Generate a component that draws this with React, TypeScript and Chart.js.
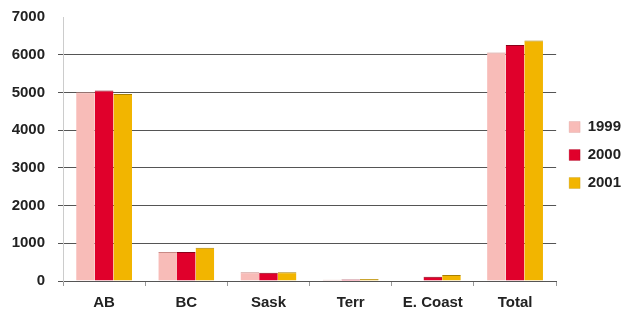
import React, { useEffect, useRef } from "react";
import { Chart, registerables } from "chart.js";

Chart.register(...registerables);

const categories = ["AB", "BC", "Sask", "Terr", "E. Coast", "Total"];
const series1999 = [5005, 770, 230, 30, 0, 6060];
const series2000 = [5050, 770, 220, 40, 110, 6255];
const series2001 = [4960, 880, 230, 50, 160, 6380];
const seriesLabels = ["1999", "2000", "2001"];
const yTicks = [0, 1000, 2000, 3000, 4000, 5000, 6000, 7000];

const fillColors = ["#f8bcb8", "#e0002b", "#f2b500"];
const edgeColors = ["#c98a86", "#8a0018", "#a88000"];
const FONT = "Arial, 'Liberation Sans', sans-serif";

const legendShift = {
  id: "legendShift",
  afterLayout(chart: any) {
    const lg = chart.legend;
    if (lg) {
      lg.top -= 9;
      lg.bottom -= 9;
    }
  },
};

export default function App() {
  const ref = useRef<HTMLCanvasElement>(null);
  useEffect(() => {
    document.body.style.margin = "0";
    const ctx = ref.current!;
    const data = [series1999, series2000, series2001];
    const chart = new Chart(ctx, {
      type: "bar",
      data: {
        labels: categories,
        datasets: seriesLabels.map((l, i) => ({
          label: l,
          data: data[i],
          backgroundColor: fillColors[i],
          borderColor: edgeColors[i],
          borderWidth: { top: 1, left: 0, right: 0, bottom: 0 },
          categoryPercentage: 0.68,
          barPercentage: 1,
        })),
      },
      plugins: [legendShift],
      options: {
        animation: false,
        responsive: false,
        maintainAspectRatio: false,
        layout: { padding: { top: 17, left: 0, right: -5, bottom: 0 } },
        plugins: {
          tooltip: { enabled: false },
          legend: {
            position: "right",
            labels: {
              boxWidth: 11,
              boxHeight: 11,
              padding: 13,
              color: "#222",
              font: { family: FONT, size: 15, weight: "bold" },
            },
          },
        },
        scales: {
          x: {
            afterFit: (s: any) => {
              s.height = 30;
            },
            grid: {
              offset: true,
              drawOnChartArea: false,
              drawTicks: true,
              tickLength: 5,
              color: "#999",
            },
            border: { color: "#555", width: 1 },
            ticks: {
              color: "#222",
              padding: 9,
              font: { family: FONT, size: 15, weight: "bold", lineHeight: 1 },
            },
          },
          y: {
            min: 0,
            max: 7000,
            afterBuildTicks: (axis: any) => {
              axis.ticks = yTicks.map((v) => ({ value: v }));
            },
            afterFit: (s: any) => {
              s.width = 63;
              s.paddingTop = 0;
              s.paddingBottom = 0;
            },
            grid: {
              color: (c: any) => (c.tick && c.tick.value === 7000 ? "rgba(0,0,0,0)" : "#555"),
              tickLength: 5,
            },
            border: { color: "#ccc", width: 1 },
            ticks: {
              color: "#222",
              padding: 13,
              callback: (v: any) => String(v),
              font: { family: FONT, size: 15, weight: "bold" },
            },
          },
        },
      },
    });
    return () => chart.destroy();
  }, []);
  return (
    <div style={{ position: "absolute", left: 0, top: 0, width: 626, height: 311, overflow: "hidden" }}>
      <canvas ref={ref} width={626} height={311} />
    </div>
  );
}
